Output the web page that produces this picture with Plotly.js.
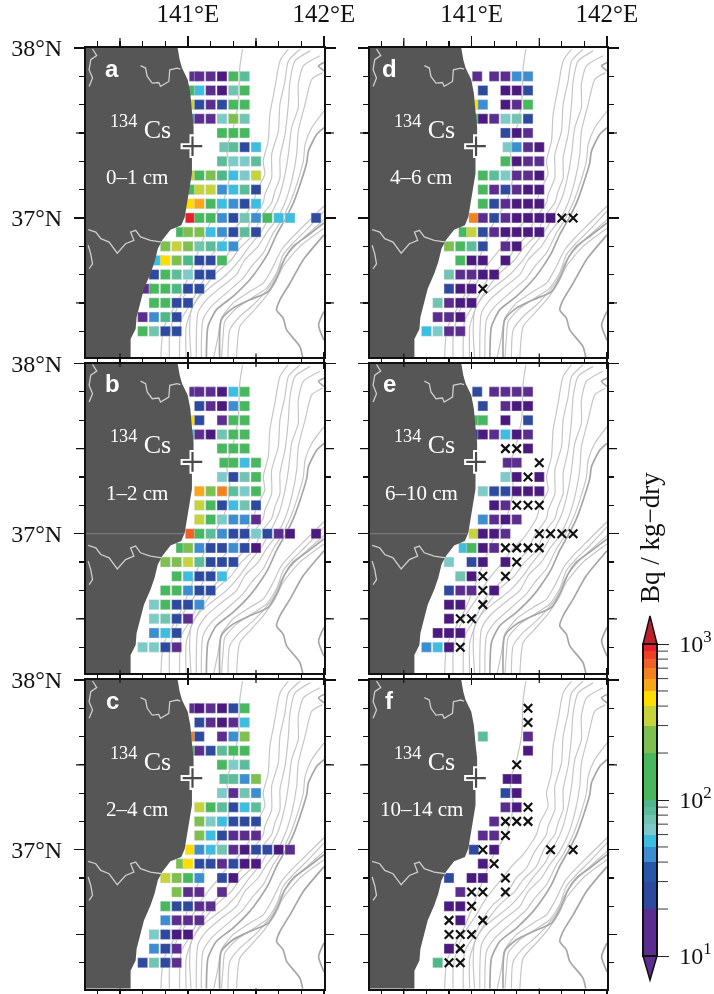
<!DOCTYPE html>
<html><head><meta charset="utf-8">
<script src="https://cdn.plot.ly/plotly-3.0.1.min.js"></script>
<style>html,body{margin:0;padding:0;background:#fff}#chart{width:714px;height:994px;filter:blur(.4px)}</style>
</head><body><div id="chart"></div>
<script>
// ---- colour classes (Bq / kg-dry) ----
const bqEdges=[10,20,30,40,50,60,70,80,90,100,200,300,400,500,600,700,800,900,1000];
const bqDecades=[10,100,1000];
const bqDecadeText=['10<sup>1</sup>','10<sup>2</sup>','10<sup>3</sup>'];
const bqColors=['#5b2d8e','#2e4a9e','#2856a8','#3d8ed0','#3dbde0','#7ccbc8','#70c4b0','#5cbd9b','#4db98a','#48b85f','#7dc04f','#c5d43c','#ffdd00','#f9a61a','#f48120','#f1602a','#ee4024','#e6202a'];
const belowColor='#4a1a7e', aboveColor='#c0202a';

// ---- measurements: [row (1/12 deg from 37N), [column (1/12 deg from 141E)], [Bq/kg-dry]] ----
const panelA=[
[10,[.55,1,2,3,4,5],[15,15,15,8,150,85]],
[9,[.2,1,2,3,4,5],[150,55,15,8,75,150]],
[8,[.2,1,2,3,4,5],[350,25,15,25,150,150]],
[7,[.2,1,2,3,4,5],[45,15,15,65,250,75]],
[6,[3,4,5],[150,150,150]],
[5,[3.2,4,5,6],[75,85,25,55]],
[4,[3,4,5,6],[85,65,65,85]],
[3,[.2,1,2,3,4,5,6],[350,150,250,95,55,65,350]],
[2,[.2,1,2,3,4,5,6],[150,350,350,45,55,80,25]],
[1,[.2,1,2,3,4,5,6],[450,550,150,55,45,25,55]],
[0,[.2,1,2,3,4,5,6,7,8,9,11.3],[900,150,150,45,25,75,45,150,55,55,25]],
[-1,[-.62,0,1,2,3,4,5,6],[150,250,250,55,45,25,85,25]],
[-2,[-2,-1,0,1,2,3,4],[250,350,250,70,85,55,45]],
[-3,[-2.65,-2,-1,0,1,2,3],[55,450,250,95,25,25,150]],
[-4,[-3,-2,-1,0,1,2],[25,150,85,65,25,25]],
[-5,[-3.7,-3,-2,-1,0,1],[15,150,150,95,25,25]],
[-6,[-3,-2,-1,0],[150,150,25,25]],
[-7,[-4,-3,-2,-1],[15,45,95,25]],
[-8,[-4,-3,-2,-1],[150,70,25,25]]];
const panelB=[
[10,[.55,1,2,3,4,5],[15,15,15,8,55,150]],
[9,[1,2,3,4,5],[25,15,8,45,150]],
[8,[.2,1,3,4,5],[450,25,15,150,150]],
[7,[.2,1,2,3,4,5],[55,15,8,75,150,150]],
[6,[3,4,5],[150,150,150]],
[5,[3.2,4,5,6],[150,150,55,150]],
[4,[3,4,5,6],[65,25,75,150]],
[3,[1,2,3,4,5,6],[550,250,650,85,65,150]],
[2,[1,2,3,4,5,6],[350,150,25,55,75,25]],
[1,[1,2,3,4,5,6],[350,150,65,45,45,15]],
[0,[.2,1,2,3,4,5,6,7,8,9,11.3],[750,150,85,45,25,25,65,25,15,8,8]],
[-1,[-.62,0,1,2,3,4,5,6],[150,250,45,25,25,45,25,8]],
[-2,[-2,-1,0,1,2,3,4],[250,250,350,85,25,25,25]],
[-3,[-1,0,1,2,3],[150,55,25,25,55]],
[-4,[-2,-1,0,1,2],[150,150,45,25,25]],
[-5,[-3,-2,-1,0,1],[65,150,25,25,45]],
[-6,[-3,-2,-1,0],[65,75,25,15]],
[-7,[-3,-2,-1],[45,55,25]],
[-8,[-4,-3,-2,-1],[65,65,25,15]]];
const panelC=[
[10,[.55,1,2,3,4,5],[15,8,15,8,25,150]],
[9,[1,2,3,4,5],[25,15,8,15,55]],
[8,[.2,1,3,4,5],[650,25,15,45,250]],
[7,[.2,1,2,3,4,5],[150,15,25,85,150,150]],
[6,[3,4,5],[150,65,85]],
[5,[3.2,4,5,6],[85,85,45,250]],
[4,[3,4,5,6],[65,15,75,45]],
[3,[1,2,3,4,5,6],[350,150,85,25,55,85]],
[2,[1,2,3,4,5,6],[250,65,55,25,25,25]],
[1,[1,2,3,4,5,6],[250,55,25,15,15,15]],
[0,[.2,1,2,3,4,5,6,7,8,9],[450,45,55,75,15,8,25,25,8,15]],
[-1,[-.62,0,1,2,3,4,5,6],[250,450,25,25,15,25,8,8]],
[-2,[-2,-1,0,1,3,4],[350,250,150,45,25,8]],
[-3,[-1,0,1,3],[250,15,15,15]],
[-4,[-2,-1,0,1,2],[150,25,25,15,15]],
[-5,[-2,-1,0,1],[45,15,15,15]],
[-6,[-3,-2,-1,0],[65,25,8,8]],
[-7,[-3,-2,-1],[45,25,15]],
[-8,[-4,-3,-2,-1],[25,75,25,15]]];
const panelD=[
[10,[.5,2,3,4,5],[15,15,15,45,45]],
[9,[1,3,4,5],[25,8,8,25]],
[8,[.2,1,3,4,5],[450,45,8,15,150]],
[7,[.2,1,2,3,4,5],[150,8,15,65,75,25]],
[6,[3,4,5],[25,8,15]],
[5,[3.2,4,5,6],[65,45,15,8]],
[4,[3,4,5,6],[150,8,15,15]],
[3,[1,2,3,4,5,6],[150,85,65,15,15,8]],
[2,[1,2,3,4,5,6],[150,15,25,15,8,8]],
[1,[1,2,3,4,5,6],[150,25,15,8,8,8]],
[0,[.2,1,2,3,4,5,6,7],[650,15,25,15,8,8,8,8]],
[-1,[-.7,0,1,2,3,4,5,6],[150,350,25,15,8,8,8,8]],
[-2,[-2,-1,0,1,3,4],[250,150,85,25,15,8]],
[-3,[-1,0,1,3],[150,8,8,8]],
[-4,[-2,-1,0,1,2],[75,15,15,8,8]],
[-5,[-2,-1,0],[25,8,8]],
[-6,[-3,-2,-1,0],[75,15,8,8]],
[-7,[-3,-2,-1],[15,15,8]],
[-8,[-4,-3,-2,-1],[55,65,15,15]]];
const panelE=[
[10,[.5,2,3,4,5],[25,15,15,15,15]],
[9,[1,3,4,5],[25,15,8,8]],
[8,[.3,1,3,5],[150,150,8,25]],
[7,[.2,1,2,3,4,5],[25,8,15,55,8,15]],
[6,[5],[8]],
[5,[3.2,4],[15,15]],
[4,[3,4,6],[65,8,8]],
[3,[1,2,3,4,5,6],[65,25,25,8,8,8]],
[2,[2,3],[8,15]],
[1,[1,2,3,4],[45,15,8,15]],
[0,[.2,1,2,3],[350,8,8,15]],
[-1,[-.7,0,1,2],[55,150,8,15]],
[-2,[-2,0,1,3],[65,25,8,8]],
[-3,[-1,0],[75,8]],
[-4,[-2,-1,0,2],[25,15,15,8]],
[-5,[-2,-1],[8,8]],
[-6,[-2],[8]],
[-7,[-3,-2,-1],[8,8,8]],
[-8,[-4,-3,-2],[45,55,8]]];
const panelF=[
[8,[1,5],[85,15]],
[7,[5],[8]],
[5,[3.2,4],[8,8]],
[4,[3,4],[25,8]],
[3,[3,4],[15,8]],
[2,[2],[15]],
[1,[1,2],[15,15]],
[0,[.2,2],[25,8]],
[-1,[1],[8]],
[-2,[-2,0,1],[25,8,8]],
[-3,[-1],[15]],
[-4,[-2,-1],[8,8]],
[-5,[-1],[8]],
[-7,[-2],[8]],
[-8,[-3],[95]]];
// below detection limit: [row, [columns]]
const belowD=[[0,[8,9]],[-5,[1]]];
const belowE=[[6,[3,4]],[5,[6]],[4,[5]],[2,[4,5,6]],[0,[6,7,8,9]],[-1,[3,4,5,6]],[-2,[4]],[-3,[1,3]],[-4,[1]],[-5,[1]],[-6,[-1,0]],[-8,[-1]]];
const belowF=[[10,[5]],[9,[5]],[6,[4]],[3,[5]],[2,[3,4,5]],[1,[3]],[0,[1,7,9]],[-1,[2]],[-2,[3]],[-3,[0,1,3]],[-4,[0]],[-5,[-2,1]],[-6,[-2,-1,0]],[-7,[-1]],[-8,[-2,-1]]];

// ---- map outlines, lon/lat ----
const landLon=[140.25,140.924,140.939,140.956,140.998,141.017,141.029,141.041,141.041,141.029,141.029,141.012,140.993,140.976,140.951,140.871,140.81,140.778,140.754,140.724,140.676,140.646,140.622,140.615,140.578,140.578,140.25,140.25];
const landLat=[38,38,37.931,37.882,37.813,37.734,37.626,37.537,37.459,37.38,37.262,37.173,37.085,37.006,36.957,36.931,36.868,36.819,36.74,36.671,36.583,36.494,36.415,36.346,36.287,36.16,36.16,38];
const border1Lon=[140.651,140.688,140.7,140.737,140.785,140.798,140.859,140.866,140.92,140.944];
const border1Lat=[37.896,37.882,37.833,37.793,37.797,37.774,37.803,37.872,37.882,37.876];
const border2Lon=[140.266,140.322,140.359,140.42,140.48,140.541,140.602,140.578,140.615,140.651,140.724,140.81];
const border2Lat=[36.931,36.917,36.878,36.858,36.793,36.848,36.868,36.917,36.927,36.888,36.868,36.858];
const border3Lon=[140.298,140.329,140.285,140.273,140.298,140.273];
const border3Lat=[37.994,37.955,37.931,37.872,37.823,37.774];
const border4Lon=[140.266,140.285,140.298,140.273];
const border4Lat=[36.839,36.789,36.73,36.701];
const plantLon=[141.033], plantLat=[37.422];

// ---- isobaths, lon/lat ----
const isoA=[[141.401,37.993],[141.381,37.885],[141.369,37.669],[141.32,37.492],[141.283,37.413],[141.31,37.26],[141.26,37.1],[141.15,36.95],[141.05,36.75],[140.95,36.55],[140.82,36.35],[140.8,36.16]];
const isoB=[[141.738,37.993],[141.676,37.924],[141.639,37.767],[141.602,37.61],[141.59,37.452],[141.553,37.334],[141.565,37.256],[141.504,37.158],[141.479,37.089],[141.381,36.971],[141.307,36.912],[141.208,36.813],[141.147,36.754],[141.085,36.685],[141.036,36.617],[140.938,36.499],[140.889,36.4],[140.864,36.302],[140.864,36.16]];
const isoC=[[141.824,37.993],[141.738,37.924],[141.713,37.806],[141.676,37.669],[141.664,37.511],[141.615,37.374],[141.615,37.236],[141.565,37.138],[141.553,37.089],[141.467,36.99],[141.405,36.892],[141.331,36.833],[141.258,36.744],[141.159,36.676],[141.085,36.597],[141.024,36.499],[140.95,36.4],[140.938,36.16]];
const isoD=[[141.898,37.983],[141.787,37.924],[141.75,37.806],[141.738,37.669],[141.713,37.492],[141.676,37.354],[141.676,37.236],[141.639,37.158],[141.615,37.089],[141.54,37.01],[141.479,36.902],[141.381,36.823],[141.319,36.754],[141.208,36.676],[141.11,36.577],[141.036,36.479],[140.987,36.361],[140.987,36.16]];
const isoE=[[141.971,37.954],[141.848,37.895],[141.811,37.787],[141.811,37.649],[141.762,37.531],[141.738,37.374],[141.713,37.256],[141.676,37.138],[141.652,37.089],[141.602,37.01],[141.54,36.921],[141.442,36.823],[141.381,36.754],[141.282,36.666],[141.172,36.597],[141.085,36.538],[141.024,36.459],[141.012,36.341],[141.024,36.16]];
const isoF=[[141.989,37.855],[141.91,37.816],[141.861,37.669],[141.811,37.511],[141.799,37.374],[141.762,37.216],[141.713,37.089],[141.651,36.99],[141.577,36.912],[141.516,36.833],[141.418,36.754],[141.356,36.666],[141.233,36.587],[141.135,36.518],[141.073,36.44],[141.061,36.16]];
const isoG=[[142,37.629],[141.91,37.531],[141.861,37.433],[141.848,37.334],[141.799,37.197],[141.75,37.089],[141.676,36.971],[141.627,36.912],[141.553,36.794],[141.467,36.715],[141.405,36.646],[141.282,36.558],[141.172,36.479],[141.11,36.4],[141.098,36.16]];
const isoH=[[142,37.531],[141.947,37.492],[141.885,37.393],[141.873,37.325],[141.824,37.197],[141.775,37.089],[141.713,36.99],[141.651,36.902],[141.59,36.794],[141.528,36.715],[141.454,36.636],[141.331,36.538],[141.208,36.459],[141.147,36.361],[141.135,36.16]];
const isoI=[[142,37.07],[141.848,36.951],[141.762,36.882],[141.688,36.813],[141.614,36.695],[141.553,36.616],[141.454,36.567],[141.331,36.499],[141.245,36.41],[141.221,36.302],[141.184,36.16]];
const isoJ=[[142,37.04],[141.873,36.931],[141.774,36.853],[141.7,36.784],[141.651,36.676],[141.577,36.587],[141.467,36.528],[141.356,36.469],[141.27,36.39],[141.258,36.302],[141.245,36.16]];
const isoK=[[142,36.97],[141.873,36.892],[141.774,36.833],[141.713,36.764],[141.651,36.646],[141.59,36.567],[141.454,36.518],[141.331,36.469],[141.245,36.4],[141.233,36.16]];
const isoL=[[142,36.99],[141.848,36.882],[141.75,36.803],[141.676,36.715],[141.627,36.626],[141.54,36.538],[141.467,36.479],[141.381,36.42],[141.307,36.341],[141.294,36.16]];
const isoM=[[142,36.94],[141.823,36.833],[141.7,36.715],[141.639,36.616],[141.553,36.518],[141.467,36.44],[141.381,36.361],[141.356,36.16]];
const isoN=[[142,36.9],[141.848,36.754],[141.75,36.616],[141.676,36.518],[141.651,36.459],[141.7,36.41],[141.725,36.341],[141.823,36.243],[141.848,36.16]];
const isoO=[[142,36.45],[141.96,36.37],[142,36.28]];
const isoP=[[142,37.915],[141.96,37.895],[142,37.865]];
const lightIso=[isoA,isoB,isoC,isoD,isoE,isoF,isoG,isoI,isoJ,isoL,isoM];
const darkIso=[isoH,isoK,isoN,isoO,isoP];

// ---- text and ticks ----
const panelLetters=['a','b','c','d','e','f'];
const nuclideLabel='<sup>134</sup> Cs';
const depthLabels=['0–1 cm','1–2 cm','2–4 cm','4–6 cm','6–10 cm','10–14 cm'];
const xTickVals=[141,142], xTickText=['141°E','142°E'], xLongTicks=[140.5,141.5];
const yTickVals=[37,38], yTickText=['37°N','38°N'], yLongTicks=[36.5,37.5];
const hairlineLat=37, hairlineEndLon=140.97;

// ---- layout frames ----
const W=714,H=994;
const frameL=[[86,324],[370,607]];
const frameR=[[48,357],[363.5,673],[680,988.5]];
const panels=[
 {col:0,row:0,rows:panelA,nd:[],hair:false},
 {col:0,row:1,rows:panelB,nd:[],hair:true},
 {col:0,row:2,rows:panelC,nd:[],hair:false},
 {col:1,row:0,rows:panelD,nd:belowD,hair:false},
 {col:1,row:1,rows:panelE,nd:belowE,hair:true},
 {col:1,row:2,rows:panelF,nd:belowF,hair:false}];
const serif='"Liberation Serif", serif';
const sans='"Liberation Sans", Arial, sans-serif';
const log10=Math.log10;
const LONG=10;

function stepped(cmin,cmax,low,high){
  const p=v=>(v-cmin)/(cmax-cmin), cs=[];
  if(low){cs.push([0,low],[p(1),low]);}
  bqColors.forEach((c,i)=>{cs.push([p(log10(bqEdges[i])),c],[p(log10(bqEdges[i+1])),c]);});
  if(high){cs.push([p(3),high],[1,high]);}
  return cs;
}
const dataScale=stepped(0.8,3.2,belowColor,aboveColor);
const barScale=stepped(1,3);

function isoTrace(list,xa,ya,color,width){
  const x=[],y=[];
  list.forEach(l=>{l.forEach(p=>{x.push(p[0]);y.push(p[1]);});x.push(null);y.push(null);});
  return {x,y,xaxis:xa,yaxis:ya,mode:'lines',line:{color,width,shape:'spline',smoothing:.6},hoverinfo:'skip',showlegend:false};
}
const traces=[],layout={width:W,height:H,margin:{l:0,r:0,t:0,b:0},paper_bgcolor:'#fff',plot_bgcolor:'#fff',
  showlegend:false,annotations:[],shapes:[],font:{family:serif,color:'#111'}};

panels.forEach((pn,i)=>{
  const n=i===0?'':String(i+1), xa='x'+n, ya='y'+n;
  const [l,r]=frameL[pn.col], [t,b]=frameR[pn.row];
  const tickLine={color:'#111',width:1.2};
  layout['xaxis'+n]={domain:[l/W,r/W],range:[140.25,142],anchor:ya,side:'top',
    showline:true,linewidth:2,linecolor:'#111',mirror:'ticks',showgrid:false,zeroline:false,
    tickmode:'array',tickvals:xTickVals,ticktext:xTickText,ticks:'outside',ticklen:LONG,tickwidth:1.2,tickcolor:'#111',
    minor:{tickmode:'linear',tick0:141,dtick:1/6,ticks:'outside',ticklen:5,tickwidth:1.2,tickcolor:'#111',showgrid:false},
    showticklabels:pn.row===0,tickfont:{family:serif,size:25,color:'#111'},ticklabelstandoff:4};
  layout['yaxis'+n]={domain:[1-b/H,1-t/H],range:[36.1817,38],anchor:xa,
    showline:true,linewidth:2,linecolor:'#111',mirror:'ticks',showgrid:false,zeroline:false,
    tickmode:'array',tickvals:yTickVals,ticktext:yTickText,ticks:'outside',ticklen:LONG,tickwidth:1.2,tickcolor:'#111',
    minor:{tickmode:'linear',tick0:37,dtick:1/6,ticks:'outside',ticklen:5,tickwidth:1.2,tickcolor:'#111',showgrid:false},
    showticklabels:pn.col===0,tickfont:{family:serif,size:24,color:'#111'},ticklabelstandoff:7};
  const fy=LONG/(b-t), fx=LONG/(r-l);
  xLongTicks.forEach(v=>{
    layout.shapes.push({type:'line',xref:xa,yref:ya+' domain',x0:v,x1:v,y0:1,y1:1+fy,line:tickLine,layer:'above'});
    layout.shapes.push({type:'line',xref:xa,yref:ya+' domain',x0:v,x1:v,y0:0,y1:-fy,line:tickLine,layer:'above'});
  });
  yLongTicks.forEach(v=>{
    layout.shapes.push({type:'line',xref:xa+' domain',yref:ya,y0:v,y1:v,x0:0,x1:-fx,line:tickLine,layer:'above'});
    layout.shapes.push({type:'line',xref:xa+' domain',yref:ya,y0:v,y1:v,x0:1,x1:1+fx,line:tickLine,layer:'above'});
  });
  if(pn.hair) layout.shapes.push({type:'line',xref:xa,yref:ya,x0:140.25,x1:hairlineEndLon,y0:hairlineLat,y1:hairlineLat,line:{color:'#8c8c8c',width:.8},layer:'above'});

  traces.push(isoTrace(lightIso,xa,ya,'#c6c6c6',1.2));
  traces.push(isoTrace(darkIso,xa,ya,'#a6a6a6',1.7));

  const lon=[],lat=[],val=[];
  pn.rows.forEach(rw=>rw[1].forEach((c,k)=>{lon.push(141+c/12);lat.push(37+rw[0]/12);val.push(log10(rw[2][k]));}));
  traces.push({x:lon,y:lat,xaxis:xa,yaxis:ya,mode:'markers',hoverinfo:'skip',showlegend:false,
    marker:{symbol:'square',size:10,color:val,cmin:.8,cmax:3.2,colorscale:dataScale,showscale:false,
      line:{color:'rgba(225,225,225,.55)',width:.8}}});

  traces.push({x:landLon,y:landLat,xaxis:xa,yaxis:ya,mode:'lines',fill:'toself',fillcolor:'#565656',line:{width:0,color:'#565656'},hoverinfo:'skip',showlegend:false});
  [[border1Lon,border1Lat],[border2Lon,border2Lat],[border3Lon,border3Lat],[border4Lon,border4Lat]].forEach(bd=>{
    traces.push({x:bd[0],y:bd[1],xaxis:xa,yaxis:ya,mode:'lines',line:{color:'#cdcdcd',width:1.3},hoverinfo:'skip',showlegend:false});
  });
  if(pn.nd.length){
    const nx=[],ny=[];
    pn.nd.forEach(rw=>rw[1].forEach(c=>{nx.push(141+c/12);ny.push(37+rw[0]/12);}));
    traces.push({x:nx,y:ny,xaxis:xa,yaxis:ya,mode:'markers',hoverinfo:'skip',showlegend:false,
      marker:{symbol:'x-thin',size:8.5,line:{color:'#111',width:2.2}}});
  }
  traces.push({x:plantLon,y:plantLat,xaxis:xa,yaxis:ya,mode:'markers',hoverinfo:'skip',showlegend:false,
    marker:{symbol:'cross-thin',size:17,line:{color:'#fff',width:6}}});
  traces.push({x:plantLon,y:plantLat,xaxis:xa,yaxis:ya,mode:'markers',hoverinfo:'skip',showlegend:false,
    marker:{symbol:'cross-thin',size:14,line:{color:'#4a4a4a',width:2.2}}});

  const ann=(px,py,text,font)=>layout.annotations.push({xref:'paper',yref:'paper',x:px/W,y:1-py/H,text,showarrow:false,xanchor:'center',yanchor:'middle',font});
  ann(l+(pn.col?20:26),t+20,panelLetters[i],{family:sans,size:24,color:'#fff',weight:700});
  ann(l+54,t+79,nuclideLabel,{family:serif,size:26,color:'#fff'});
  ann(l+51,t+129,depthLabels[i],{family:serif,size:21,color:'#fff'});
});

// ---- colour bar ----
const barTop=644,barBot=956,barL=643,barR=657,barTickLen=11;
traces.push({x:[null,null],y:[null,null],xaxis:'x',yaxis:'y',mode:'markers',hoverinfo:'skip',showlegend:false,
  marker:{color:[1,3],cmin:1,cmax:3,colorscale:barScale,showscale:true,
    colorbar:{x:barL/W,xanchor:'left',xpad:0,y:1-barBot/H,yanchor:'bottom',ypad:0,
      len:(barBot-barTop)/H,lenmode:'fraction',thickness:barR-barL,thicknessmode:'pixels',
      outlinecolor:'#111',outlinewidth:2,borderwidth:0,
      tickmode:'array',tickvals:bqDecades.map(log10),ticktext:bqDecadeText.map(s=>'\u00a0'+s),ticks:'outside',ticklen:barTickLen,tickwidth:1,tickcolor:'#222',
      tickfont:{family:serif,size:24,color:'#111'}}}});
bqEdges.forEach(v=>{
  if(bqDecades.includes(v)) return;
  const py=barBot-(log10(v)-1)/2*(barBot-barTop);
  layout.shapes.push({type:'line',xref:'paper',yref:'paper',x0:barL/W,x1:(barR+barTickLen)/W,y0:1-py/H,y1:1-py/H,line:{color:'#222',width:.9},layer:'above'});
});
const tri=(y0,y1,fill)=>({type:'path',xref:'paper',yref:'paper',layer:'above',fillcolor:fill,line:{color:'#111',width:1.5},
  path:`M ${barL/W} ${1-y0/H} L ${barR/W} ${1-y0/H} L ${(barL+barR)/2/W} ${1-y1/H} Z`});
layout.shapes.push(tri(barTop,616,aboveColor),tri(barBot,980,bqColors[0]));
layout.annotations.push({xref:'paper',yref:'paper',x:650/W,y:1-538/H,text:'Bq / kg−dry',textangle:-90,showarrow:false,
  xanchor:'center',yanchor:'middle',font:{family:serif,size:27,color:'#111'}});

Plotly.newPlot('chart',traces,layout,{displayModeBar:false,staticPlot:true});
</script></body></html>
